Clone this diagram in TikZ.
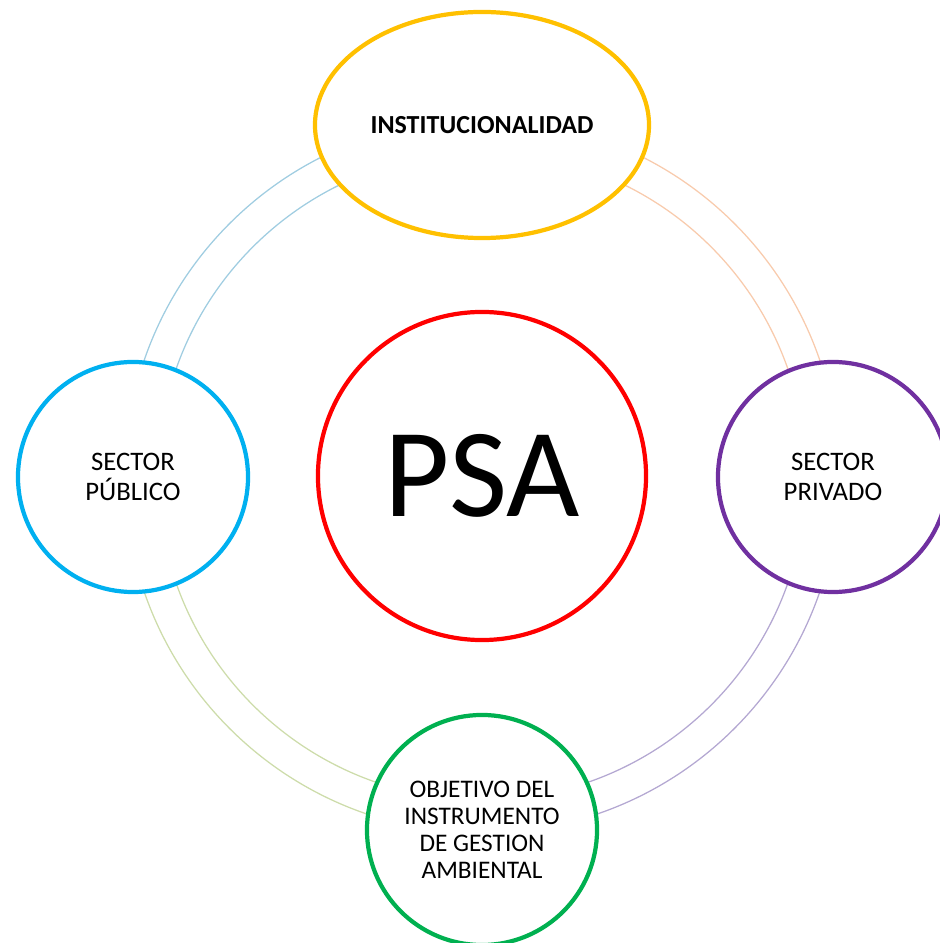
\documentclass[tikz,border=0pt]{standalone}
\usepackage{fontspec}
\setmainfont{Carlito}
\usetikzlibrary{shapes.geometric,backgrounds}
\definecolor{Gold}{RGB}{255,192,0}
\definecolor{Sky}{RGB}{0,176,240}
\definecolor{Scarlet}{RGB}{255,0,0}
\definecolor{Violet}{RGB}{112,48,160}
\definecolor{Leaf}{RGB}{0,176,80}
\definecolor{SoftSky}{RGB}{160,205,225}
\definecolor{SoftPeach}{RGB}{248,203,173}
\definecolor{SoftLilac}{RGB}{180,168,210}
\definecolor{SoftOlive}{RGB}{205,220,170}
\tikzset{
  actor/.style={circle,line width=3pt,fill=white,align=center,text=black,minimum size=5.75cm,inner sep=2pt,font=\fontsize{19}{21.3}\selectfont},
  core/.style={circle,line width=3pt,draw=Scarlet,fill=white,minimum size=8.2cm,inner sep=0pt,font=\fontsize{90}{100}\selectfont},
  headbox/.style={ellipse,line width=3pt,draw=Gold,fill=white,minimum width=8.35cm,minimum height=5.65cm,font=\bfseries\fontsize{18.5}{20}\selectfont},
  ring/.style={line width=0.9pt}
}
\begin{document}
\begin{tikzpicture}[x=0.025cm,y=0.025cm]
  \useasboundingbox (0,0) rectangle (940,943);
  \node[core] (psa) at (482,467) {PSA};
  \node[headbox] (inst) at (482,818) {INSTITUCIONALIDAD};
  \node[actor,draw=Sky] (pub) at (133,466) {SECTOR\\PÚBLICO};
  \node[actor,draw=Violet] (priv) at (833,466) {SECTOR\\PRIVADO};
  \node[actor,draw=Leaf,font=\fontsize{18}{19.2}\selectfont] (obj) at (482,113) {OBJETIVO DEL\\INSTRUMENTO\\DE GESTION\\AMBIENTAL};
  % double rings between the outer nodes
  \begin{scope}[on background layer]
    \draw[ring,SoftPeach] (psa.center) ++(0:324) arc (0:90:324);
    \draw[ring,SoftPeach] (psa.center) ++(0:357) arc (0:90:357);
    \draw[ring,SoftSky] (psa.center) ++(90:324) arc (90:180:324);
    \draw[ring,SoftSky] (psa.center) ++(90:357) arc (90:180:357);
    \draw[ring,SoftOlive] (psa.center) ++(180:324) arc (180:270:324);
    \draw[ring,SoftOlive] (psa.center) ++(180:357) arc (180:270:357);
    \draw[ring,SoftLilac] (psa.center) ++(270:324) arc (270:360:324);
    \draw[ring,SoftLilac] (psa.center) ++(270:357) arc (270:360:357);
  \end{scope}
\end{tikzpicture}
\end{document}
